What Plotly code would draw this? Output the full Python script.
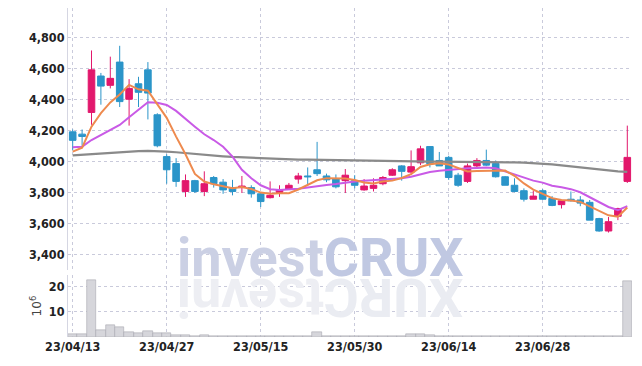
import plotly.graph_objects as go

dates = ["2023-04-13","2023-04-14","2023-04-17","2023-04-18","2023-04-19","2023-04-20","2023-04-21","2023-04-24","2023-04-25","2023-04-26",
         "2023-04-27","2023-04-28","2023-05-02","2023-05-03","2023-05-04","2023-05-08","2023-05-09","2023-05-10","2023-05-11","2023-05-12",
         "2023-05-15","2023-05-16","2023-05-17","2023-05-18","2023-05-19","2023-05-22","2023-05-23","2023-05-24","2023-05-25","2023-05-26",
         "2023-05-30","2023-05-31","2023-06-01","2023-06-02","2023-06-05","2023-06-07","2023-06-08","2023-06-09","2023-06-12","2023-06-13",
         "2023-06-14","2023-06-15","2023-06-16","2023-06-19","2023-06-20","2023-06-21","2023-06-22","2023-06-23","2023-06-26","2023-06-27",
         "2023-06-28","2023-06-29","2023-06-30","2023-07-03","2023-07-04","2023-07-05","2023-07-06","2023-07-07","2023-07-10","2023-07-11"]

open_ = [4190,4175,4315,4550,4490,4640,4400,4500,4590,4300,
         4030,3985,3805,3875,3805,3895,3865,3830,3830,3830,
         3790,3765,3795,3820,3885,3905,3945,3905,3885,3875,
         3875,3815,3825,3855,3910,3970,3930,3990,4095,4005,
         4025,3910,3870,3970,4005,3985,3900,3845,3810,3755,
         3810,3760,3720,3755,3750,3735,3630,3550,3645,3870]
high = [4205,4205,4715,4570,4675,4745,4530,4545,4640,4310,
        4045,4020,3915,3880,3935,3905,3885,3880,3905,3845,
        3795,3870,3845,3860,3925,3960,4125,3920,3915,3950,
        3910,3885,3890,3905,3955,3975,4070,4100,4095,4060,
        4035,3925,3985,4020,4075,4005,3905,3890,3825,3810,
        3820,3775,3745,3805,3775,3750,3635,3640,3700,4230]
low = [4070,4100,4235,4365,4470,4350,4230,4350,4270,4090,
       3855,3835,3770,3795,3775,3830,3790,3780,3795,3765,
       3705,3760,3770,3815,3855,3845,3905,3865,3825,3795,
       3825,3810,3805,3845,3905,3875,3920,3975,3960,3970,
       3880,3835,3860,3955,3970,3895,3845,3800,3740,3755,
       3750,3710,3695,3740,3710,3620,3545,3540,3620,3860]
close = [4135,4160,4590,4485,4535,4385,4470,4445,4440,4100,
         3945,3870,3875,3805,3855,3855,3815,3805,3840,3790,
         3740,3780,3815,3845,3905,3900,3920,3880,3835,3910,
         3845,3840,3845,3895,3945,3935,3965,4080,3985,3970,
         3895,3845,3970,4005,3975,3900,3845,3805,3755,3775,
         3755,3715,3745,3745,3730,3620,3550,3610,3695,4025]

ma5 = [4062,4088,4223,4310,4380,4431,4493,4464,4455,4368,
       4280,4159,4045,3918,3869,3851,3840,3826,3834,3821,
       3798,3791,3793,3794,3818,3850,3877,3891,3888,3889,
       3879,3863,3857,3869,3875,3892,3917,3963,3981,3987,
       3979,3956,3934,3937,3938,3940,3940,3906,3857,3817,
       3788,3762,3750,3747,3738,3710,3678,3651,3642,3701]
ma20 = [4090,4094,4137,4170,4202,4234,4284,4331,4381,4378,
        4363,4325,4277,4223,4174,4137,4094,4030,3945,3890,
        3845,3820,3815,3817,3822,3830,3840,3847,3853,3862,
        3870,3875,3879,3883,3886,3890,3900,3915,3930,3938,
        3944,3950,3955,3957,3959,3955,3935,3910,3893,3875,
        3862,3842,3832,3820,3800,3770,3735,3705,3685,3710]
ma120 = [4038,4042,4048,4052,4055,4058,4062,4065,4067,4066,
         4062,4058,4052,4046,4040,4035,4032,4028,4025,4022,
         4019,4016,4014,4012,4011,4010,4009,4008,4007,4006,
         4004,4002,4000,3998,3997,3996,3996,3996,3997,3997,
         3997,3997,3997,3997,3997,3996,3995,3993,3991,3988,
         3985,3980,3974,3967,3960,3953,3946,3940,3935,3932]

volume_m = [1.0,1.0,22.5,2.8,4.5,4.1,1.9,1.6,2.3,1.5,
            1.5,0.8,0.8,0.3,0.6,0.3,0.3,0.2,0.3,0.2,
            0.2,0.2,0.2,0.2,0.4,0.4,1.8,0.3,0.4,0.4,
            0.2,0.2,0.2,0.2,0.3,0.4,1.3,1.0,0.7,0.4,
            0.3,0.3,0.3,0.3,0.3,0.3,0.3,0.2,0.2,0.2,
            0.2,0.15,0.15,0.15,0.2,0.3,0.3,0.3,0.3,22.0]

tick_dates = ["2023-04-13","2023-04-27","2023-05-15","2023-05-30","2023-06-14","2023-06-28"]
tick_labels = ["23/04/13","23/04/27","23/05/15","23/05/30","23/06/14","23/06/28"]
price_ticks = [3400,3600,3800,4000,4200,4400,4600,4800]
vol_ticks = [10,20]

FONT = "DejaVu Sans Condensed, Roboto, sans-serif"
UP = "#e2176c"
DOWN = "#2b95c9"
GRID = "#c9cadb"

fig = go.Figure()

fig.add_trace(go.Candlestick(
    x=dates, open=open_, high=high, low=low, close=close,
    increasing=dict(line=dict(color=UP, width=1), fillcolor=UP),
    decreasing=dict(line=dict(color=DOWN, width=1), fillcolor=DOWN),
    whiskerwidth=0, xaxis="x", yaxis="y", showlegend=False, hoverinfo="skip"))

fig.add_trace(go.Scatter(x=dates, y=ma120, mode="lines", line=dict(color="#8a8a8a", width=2.2),
                         xaxis="x", yaxis="y", showlegend=False, hoverinfo="skip"))
fig.add_trace(go.Scatter(x=dates, y=ma20, mode="lines", line=dict(color="#c95ae6", width=2),
                         xaxis="x", yaxis="y", showlegend=False, hoverinfo="skip"))
fig.add_trace(go.Scatter(x=dates, y=ma5, mode="lines", line=dict(color="#ee8a4e", width=2),
                         xaxis="x", yaxis="y", showlegend=False, hoverinfo="skip"))

fig.add_trace(go.Bar(x=dates, y=volume_m, marker=dict(color="#d6d6db", line=dict(color="#a8a8b0", width=0.6)),
                     xaxis="x2", yaxis="y2", showlegend=False, hoverinfo="skip"))

# watermark (with faint reflection)
WM_FONT = dict(family="Roboto, sans-serif", size=54, weight="bold")
fig.add_annotation(xref="paper", yref="paper", x=0.447, y=0.143, xanchor="center", yanchor="bottom",
                   text="<span style='color:#cbd0e4'>invest</span><span style='color:#c0c8e2'>CRUX</span>",
                   showarrow=False, font=WM_FONT, borderpad=0)
fig.add_annotation(xref="paper", yref="paper", x=0.447, y=0.221, xanchor="center", yanchor="top",
                   text="<span style='color:#eaecf2'>XURC</span><span style='color:#edeef3'>tsevni</span>",
                   textangle=180, showarrow=False, font=WM_FONT, borderpad=0)

tickfont = dict(family=FONT, size=12.5, color="#222222", weight="bold")

fig.update_layout(
    width=642, height=366,
    margin=dict(l=68, r=10, t=8, b=29),
    paper_bgcolor="white", plot_bgcolor="white",
    bargap=0.0, boxgap=0.3, boxgroupgap=0.0,
    xaxis=dict(type="category", range=[-0.5, 59.5], domain=[0, 1], anchor="y",
               tickvals=tick_dates, ticktext=tick_labels, showticklabels=False,
               showgrid=True, gridcolor=GRID, griddash="dot", gridwidth=1,
               rangeslider=dict(visible=False), zeroline=False, showline=False),
    yaxis=dict(domain=[0.204, 1], range=[3299, 4989], tickvals=price_ticks, tickformat=",d",
               showgrid=True, gridcolor=GRID, griddash="dot", gridwidth=1, zeroline=False,
               showline=True, linecolor="#d5d6e2", linewidth=1, tickfont=tickfont, ticks="",
               automargin=False),
    xaxis2=dict(type="category", range=[-0.5, 59.5], domain=[0, 1], anchor="y2", matches="x",
                tickvals=tick_dates, ticktext=tick_labels,
                showgrid=True, gridcolor=GRID, griddash="dot", gridwidth=1,
                zeroline=False, showline=False, tickfont=tickfont, ticks="", automargin=False),
    yaxis2=dict(domain=[0, 0.188], range=[0, 24.5], tickvals=vol_ticks,
                showgrid=True, gridcolor=GRID, griddash="dot", gridwidth=1, zeroline=False,
                showline=True, linecolor="#d5d6e2", linewidth=1, tickfont=tickfont, ticks="",
                automargin=False,
                title=dict(text="10<sup>6</sup>", font=dict(family="DejaVu Sans, sans-serif", size=12, color="#444"), standoff=4)),
)

fig.write_html("out.html", config={"displayModeBar": False},
               post_script="document.body.style.margin='0px';")
